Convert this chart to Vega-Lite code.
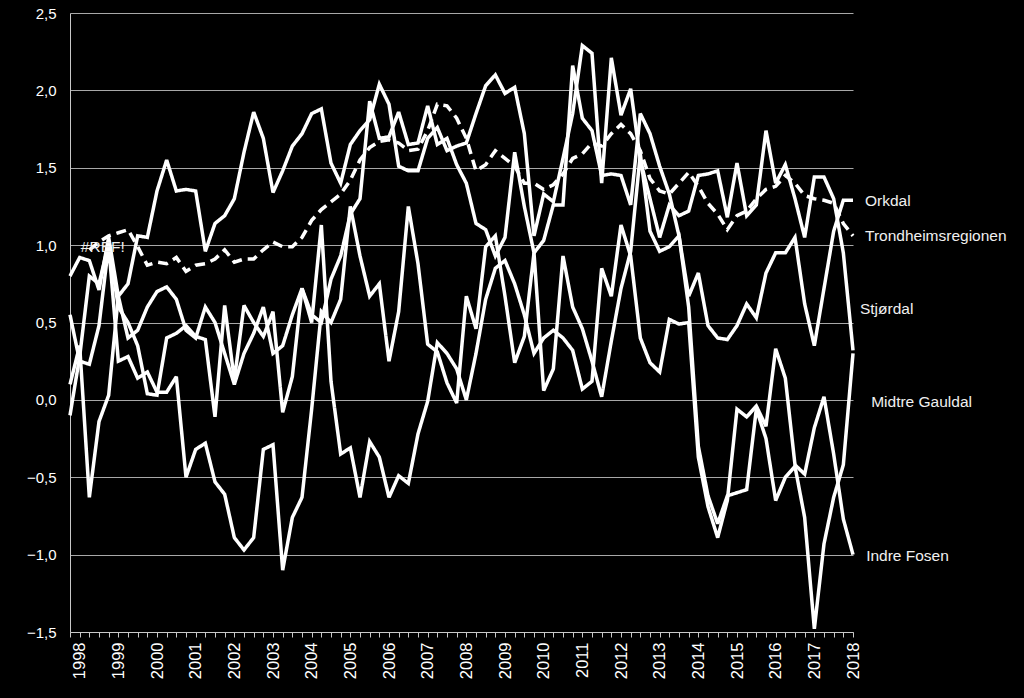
{
  "$schema": "https://vega.github.io/schema/vega-lite/v6.json",
  "width": 783,
  "height": 619,
  "autosize": {"type": "none"},
  "padding": {"left": 70, "top": 13, "right": 171, "bottom": 66},
  "background": "#000000",
  "config": {
    "view": {"stroke": null},
    "font": "Liberation Sans",
    "locale": {"number": {"decimal": ",", "thousands": " ", "grouping": [3], "currency": ["", ""]}}
  },
  "datasets": {
    "series": [
      {"t":1997.75,"Orkdal":0.55,"Trondheimsregionen":null,"Stjørdal":0.80,"Midtre Gauldal":-0.10,"Indre Fosen":0.10},
      {"t":1998.00,"Orkdal":0.25,"Trondheimsregionen":null,"Stjørdal":0.92,"Midtre Gauldal":0.28,"Indre Fosen":0.35},
      {"t":1998.25,"Orkdal":0.23,"Trondheimsregionen":0.97,"Stjørdal":0.90,"Midtre Gauldal":0.80,"Indre Fosen":-0.63},
      {"t":1998.50,"Orkdal":0.48,"Trondheimsregionen":1.02,"Stjørdal":0.71,"Midtre Gauldal":0.75,"Indre Fosen":-0.14},
      {"t":1998.75,"Orkdal":1.00,"Trondheimsregionen":1.06,"Stjørdal":1.05,"Midtre Gauldal":1.01,"Indre Fosen":0.03},
      {"t":1999.00,"Orkdal":0.25,"Trondheimsregionen":1.08,"Stjørdal":0.67,"Midtre Gauldal":0.60,"Indre Fosen":0.67},
      {"t":1999.25,"Orkdal":0.28,"Trondheimsregionen":1.10,"Stjørdal":0.75,"Midtre Gauldal":0.50,"Indre Fosen":0.40},
      {"t":1999.50,"Orkdal":0.14,"Trondheimsregionen":0.99,"Stjørdal":1.06,"Midtre Gauldal":0.35,"Indre Fosen":0.45},
      {"t":1999.75,"Orkdal":0.18,"Trondheimsregionen":0.87,"Stjørdal":1.05,"Midtre Gauldal":0.04,"Indre Fosen":0.60},
      {"t":2000.00,"Orkdal":0.05,"Trondheimsregionen":0.89,"Stjørdal":1.35,"Midtre Gauldal":0.03,"Indre Fosen":0.70},
      {"t":2000.25,"Orkdal":0.05,"Trondheimsregionen":0.88,"Stjørdal":1.55,"Midtre Gauldal":0.40,"Indre Fosen":0.73},
      {"t":2000.50,"Orkdal":0.15,"Trondheimsregionen":0.92,"Stjørdal":1.35,"Midtre Gauldal":0.43,"Indre Fosen":0.65},
      {"t":2000.75,"Orkdal":-0.50,"Trondheimsregionen":0.83,"Stjørdal":1.36,"Midtre Gauldal":0.48,"Indre Fosen":0.45},
      {"t":2001.00,"Orkdal":-0.32,"Trondheimsregionen":0.87,"Stjørdal":1.35,"Midtre Gauldal":0.41,"Indre Fosen":0.40},
      {"t":2001.25,"Orkdal":-0.28,"Trondheimsregionen":0.88,"Stjørdal":0.96,"Midtre Gauldal":0.39,"Indre Fosen":0.60},
      {"t":2001.50,"Orkdal":-0.53,"Trondheimsregionen":0.91,"Stjørdal":1.14,"Midtre Gauldal":-0.11,"Indre Fosen":0.50},
      {"t":2001.75,"Orkdal":-0.61,"Trondheimsregionen":0.97,"Stjørdal":1.19,"Midtre Gauldal":0.61,"Indre Fosen":0.30},
      {"t":2002.00,"Orkdal":-0.89,"Trondheimsregionen":0.89,"Stjørdal":1.30,"Midtre Gauldal":0.13,"Indre Fosen":0.10},
      {"t":2002.25,"Orkdal":-0.97,"Trondheimsregionen":0.91,"Stjørdal":1.60,"Midtre Gauldal":0.61,"Indre Fosen":0.30},
      {"t":2002.50,"Orkdal":-0.89,"Trondheimsregionen":0.91,"Stjørdal":1.86,"Midtre Gauldal":0.50,"Indre Fosen":0.43},
      {"t":2002.75,"Orkdal":-0.32,"Trondheimsregionen":0.97,"Stjørdal":1.69,"Midtre Gauldal":0.41,"Indre Fosen":0.60},
      {"t":2003.00,"Orkdal":-0.29,"Trondheimsregionen":1.02,"Stjørdal":1.34,"Midtre Gauldal":0.57,"Indre Fosen":0.30},
      {"t":2003.25,"Orkdal":-1.10,"Trondheimsregionen":0.99,"Stjørdal":1.48,"Midtre Gauldal":-0.08,"Indre Fosen":0.35},
      {"t":2003.50,"Orkdal":-0.76,"Trondheimsregionen":0.99,"Stjørdal":1.64,"Midtre Gauldal":0.15,"Indre Fosen":0.55},
      {"t":2003.75,"Orkdal":-0.63,"Trondheimsregionen":1.05,"Stjørdal":1.72,"Midtre Gauldal":0.72,"Indre Fosen":0.72},
      {"t":2004.00,"Orkdal":-0.06,"Trondheimsregionen":1.16,"Stjørdal":1.85,"Midtre Gauldal":0.55,"Indre Fosen":0.50},
      {"t":2004.25,"Orkdal":0.57,"Trondheimsregionen":1.23,"Stjørdal":1.88,"Midtre Gauldal":0.50,"Indre Fosen":1.13},
      {"t":2004.50,"Orkdal":0.50,"Trondheimsregionen":1.28,"Stjørdal":1.53,"Midtre Gauldal":0.78,"Indre Fosen":0.12},
      {"t":2004.75,"Orkdal":0.65,"Trondheimsregionen":1.33,"Stjørdal":1.40,"Midtre Gauldal":0.93,"Indre Fosen":-0.35},
      {"t":2005.00,"Orkdal":1.25,"Trondheimsregionen":1.42,"Stjørdal":1.65,"Midtre Gauldal":1.20,"Indre Fosen":-0.31},
      {"t":2005.25,"Orkdal":0.93,"Trondheimsregionen":1.55,"Stjørdal":1.74,"Midtre Gauldal":1.30,"Indre Fosen":-0.63},
      {"t":2005.50,"Orkdal":0.67,"Trondheimsregionen":1.63,"Stjørdal":1.81,"Midtre Gauldal":1.93,"Indre Fosen":-0.27},
      {"t":2005.75,"Orkdal":0.75,"Trondheimsregionen":1.67,"Stjørdal":2.04,"Midtre Gauldal":1.69,"Indre Fosen":-0.37},
      {"t":2006.00,"Orkdal":0.25,"Trondheimsregionen":1.68,"Stjørdal":1.91,"Midtre Gauldal":1.70,"Indre Fosen":-0.63},
      {"t":2006.25,"Orkdal":0.57,"Trondheimsregionen":1.66,"Stjørdal":1.51,"Midtre Gauldal":1.86,"Indre Fosen":-0.49},
      {"t":2006.50,"Orkdal":1.25,"Trondheimsregionen":1.61,"Stjørdal":1.48,"Midtre Gauldal":1.65,"Indre Fosen":-0.54},
      {"t":2006.75,"Orkdal":0.88,"Trondheimsregionen":1.62,"Stjørdal":1.48,"Midtre Gauldal":1.66,"Indre Fosen":-0.22},
      {"t":2007.00,"Orkdal":0.36,"Trondheimsregionen":1.74,"Stjørdal":1.69,"Midtre Gauldal":1.90,"Indre Fosen":-0.01},
      {"t":2007.25,"Orkdal":0.31,"Trondheimsregionen":1.91,"Stjørdal":1.76,"Midtre Gauldal":1.65,"Indre Fosen":0.37},
      {"t":2007.50,"Orkdal":0.11,"Trondheimsregionen":1.90,"Stjørdal":1.61,"Midtre Gauldal":1.69,"Indre Fosen":0.30},
      {"t":2007.75,"Orkdal":-0.02,"Trondheimsregionen":1.82,"Stjørdal":1.64,"Midtre Gauldal":1.52,"Indre Fosen":0.20},
      {"t":2008.00,"Orkdal":0.67,"Trondheimsregionen":1.69,"Stjørdal":1.66,"Midtre Gauldal":1.40,"Indre Fosen":0.00},
      {"t":2008.25,"Orkdal":0.46,"Trondheimsregionen":1.48,"Stjørdal":1.85,"Midtre Gauldal":1.14,"Indre Fosen":0.30},
      {"t":2008.50,"Orkdal":0.99,"Trondheimsregionen":1.52,"Stjørdal":2.03,"Midtre Gauldal":1.10,"Indre Fosen":0.65},
      {"t":2008.75,"Orkdal":1.06,"Trondheimsregionen":1.61,"Stjørdal":2.10,"Midtre Gauldal":0.93,"Indre Fosen":0.85},
      {"t":2009.00,"Orkdal":0.67,"Trondheimsregionen":1.56,"Stjørdal":1.98,"Midtre Gauldal":1.05,"Indre Fosen":0.90},
      {"t":2009.25,"Orkdal":0.24,"Trondheimsregionen":1.51,"Stjørdal":2.02,"Midtre Gauldal":1.60,"Indre Fosen":0.75},
      {"t":2009.50,"Orkdal":0.41,"Trondheimsregionen":1.40,"Stjørdal":1.72,"Midtre Gauldal":1.25,"Indre Fosen":0.55},
      {"t":2009.75,"Orkdal":0.95,"Trondheimsregionen":1.40,"Stjørdal":1.06,"Midtre Gauldal":0.95,"Indre Fosen":0.30},
      {"t":2010.00,"Orkdal":0.06,"Trondheimsregionen":1.36,"Stjørdal":1.33,"Midtre Gauldal":1.03,"Indre Fosen":0.40},
      {"t":2010.25,"Orkdal":0.20,"Trondheimsregionen":1.39,"Stjørdal":1.28,"Midtre Gauldal":1.26,"Indre Fosen":0.45},
      {"t":2010.50,"Orkdal":0.93,"Trondheimsregionen":1.46,"Stjørdal":1.56,"Midtre Gauldal":1.26,"Indre Fosen":0.40},
      {"t":2010.75,"Orkdal":0.60,"Trondheimsregionen":1.56,"Stjørdal":1.85,"Midtre Gauldal":2.16,"Indre Fosen":0.32},
      {"t":2011.00,"Orkdal":0.46,"Trondheimsregionen":1.59,"Stjørdal":2.29,"Midtre Gauldal":1.82,"Indre Fosen":0.07},
      {"t":2011.25,"Orkdal":0.25,"Trondheimsregionen":1.66,"Stjørdal":2.24,"Midtre Gauldal":1.74,"Indre Fosen":0.12},
      {"t":2011.50,"Orkdal":0.02,"Trondheimsregionen":1.64,"Stjørdal":1.40,"Midtre Gauldal":1.45,"Indre Fosen":0.85},
      {"t":2011.75,"Orkdal":0.38,"Trondheimsregionen":1.72,"Stjørdal":2.21,"Midtre Gauldal":1.46,"Indre Fosen":0.67},
      {"t":2012.00,"Orkdal":0.72,"Trondheimsregionen":1.78,"Stjørdal":1.84,"Midtre Gauldal":1.45,"Indre Fosen":1.13},
      {"t":2012.25,"Orkdal":0.96,"Trondheimsregionen":1.72,"Stjørdal":2.01,"Midtre Gauldal":1.26,"Indre Fosen":0.93},
      {"t":2012.50,"Orkdal":1.59,"Trondheimsregionen":1.61,"Stjørdal":1.55,"Midtre Gauldal":1.85,"Indre Fosen":0.40},
      {"t":2012.75,"Orkdal":1.09,"Trondheimsregionen":1.43,"Stjørdal":1.30,"Midtre Gauldal":1.72,"Indre Fosen":0.24},
      {"t":2013.00,"Orkdal":0.96,"Trondheimsregionen":1.35,"Stjørdal":1.05,"Midtre Gauldal":1.51,"Indre Fosen":0.18},
      {"t":2013.25,"Orkdal":0.99,"Trondheimsregionen":1.33,"Stjørdal":1.26,"Midtre Gauldal":1.33,"Indre Fosen":0.52},
      {"t":2013.50,"Orkdal":1.06,"Trondheimsregionen":1.40,"Stjørdal":1.19,"Midtre Gauldal":1.06,"Indre Fosen":0.49},
      {"t":2013.75,"Orkdal":0.67,"Trondheimsregionen":1.47,"Stjørdal":1.22,"Midtre Gauldal":0.60,"Indre Fosen":0.50},
      {"t":2014.00,"Orkdal":0.82,"Trondheimsregionen":1.38,"Stjørdal":1.45,"Midtre Gauldal":-0.30,"Indre Fosen":-0.37},
      {"t":2014.25,"Orkdal":0.48,"Trondheimsregionen":1.27,"Stjørdal":1.46,"Midtre Gauldal":-0.62,"Indre Fosen":-0.69},
      {"t":2014.50,"Orkdal":0.40,"Trondheimsregionen":1.20,"Stjørdal":1.48,"Midtre Gauldal":-0.80,"Indre Fosen":-0.89},
      {"t":2014.75,"Orkdal":0.39,"Trondheimsregionen":1.10,"Stjørdal":1.18,"Midtre Gauldal":-0.62,"Indre Fosen":-0.65},
      {"t":2015.00,"Orkdal":0.48,"Trondheimsregionen":1.19,"Stjørdal":1.53,"Midtre Gauldal":-0.60,"Indre Fosen":-0.06},
      {"t":2015.25,"Orkdal":0.62,"Trondheimsregionen":1.22,"Stjørdal":1.19,"Midtre Gauldal":-0.58,"Indre Fosen":-0.11},
      {"t":2015.50,"Orkdal":0.53,"Trondheimsregionen":1.30,"Stjørdal":1.26,"Midtre Gauldal":-0.06,"Indre Fosen":-0.04},
      {"t":2015.75,"Orkdal":0.82,"Trondheimsregionen":1.36,"Stjørdal":1.74,"Midtre Gauldal":-0.25,"Indre Fosen":-0.17},
      {"t":2016.00,"Orkdal":0.95,"Trondheimsregionen":1.38,"Stjørdal":1.40,"Midtre Gauldal":-0.65,"Indre Fosen":0.33},
      {"t":2016.25,"Orkdal":0.95,"Trondheimsregionen":1.45,"Stjørdal":1.52,"Midtre Gauldal":-0.50,"Indre Fosen":0.14},
      {"t":2016.50,"Orkdal":1.05,"Trondheimsregionen":1.40,"Stjørdal":1.30,"Midtre Gauldal":-0.43,"Indre Fosen":-0.42},
      {"t":2016.75,"Orkdal":0.62,"Trondheimsregionen":1.32,"Stjørdal":1.05,"Midtre Gauldal":-0.76,"Indre Fosen":-0.48},
      {"t":2017.00,"Orkdal":0.35,"Trondheimsregionen":1.30,"Stjørdal":1.44,"Midtre Gauldal":-1.48,"Indre Fosen":-0.18},
      {"t":2017.25,"Orkdal":0.72,"Trondheimsregionen":1.29,"Stjørdal":1.44,"Midtre Gauldal":-0.93,"Indre Fosen":0.02},
      {"t":2017.50,"Orkdal":1.09,"Trondheimsregionen":1.27,"Stjørdal":1.30,"Midtre Gauldal":-0.63,"Indre Fosen":-0.35},
      {"t":2017.75,"Orkdal":1.29,"Trondheimsregionen":1.14,"Stjørdal":0.95,"Midtre Gauldal":-0.42,"Indre Fosen":-0.77},
      {"t":2018.00,"Orkdal":1.29,"Trondheimsregionen":1.06,"Stjørdal":0.32,"Midtre Gauldal":0.30,"Indre Fosen":-1.00}
    ],
    "labels": [
      {"t":2018.31,"v":1.284,"label":"Orkdal"},
      {"t":2018.31,"v":1.058,"label":"Trondheimsregionen"},
      {"t":2018.18,"v":0.587,"label":"Stjørdal"},
      {"t":2018.47,"v":-0.013,"label":"Midtre Gauldal"},
      {"t":2018.34,"v":-1.006,"label":"Indre Fosen"},
      {"t":1998.03,"v":0.99,"label":"#REF!"}
    ]
  },
  "layer": [
    {
      "data": {"name": "series"},
      "transform": [{"fold": ["Orkdal", "Trondheimsregionen", "Stjørdal", "Midtre Gauldal", "Indre Fosen"], "as": ["serie", "v"]}],
      "mark": {"type": "line", "stroke": "#ffffff", "strokeWidth": 3.5, "strokeJoin": "miter", "strokeMiterLimit": 3},
      "encoding": {
        "x": {
          "field": "t", "type": "quantitative",
          "scale": {"domain": [1997.75, 2018], "nice": false, "zero": false},
          "axis": {
            "values": [1997.75,1998,1998.25,1998.5,1998.75,1999,1999.25,1999.5,1999.75,2000,2000.25,2000.5,2000.75,2001,2001.25,2001.5,2001.75,2002,2002.25,2002.5,2002.75,2003,2003.25,2003.5,2003.75,2004,2004.25,2004.5,2004.75,2005,2005.25,2005.5,2005.75,2006,2006.25,2006.5,2006.75,2007,2007.25,2007.5,2007.75,2008,2008.25,2008.5,2008.75,2009,2009.25,2009.5,2009.75,2010,2010.25,2010.5,2010.75,2011,2011.25,2011.5,2011.75,2012,2012.25,2012.5,2012.75,2013,2013.25,2013.5,2013.75,2014,2014.25,2014.5,2014.75,2015,2015.25,2015.5,2015.75,2016,2016.25,2016.5,2016.75,2017,2017.25,2017.5,2017.75,2018],
            "tickCount": 200,
            "labelExpr": "datum.value % 1 === 0 ? format(datum.value, 'd') : ''",
            "labelAngle": -90, "labelAlign": "right", "labelBaseline": "middle",
            "labelFontSize": 16.5, "labelColor": "#ffffff", "labelPadding": 5,
            "labelOverlap": false, "labelBound": false, "labelFlush": false,
            "tickColor": "#c8c8c8", "tickSize": 5, "tickWidth": 1,
            "domainColor": "#c8c8c8", "domainWidth": 1,
            "grid": false, "title": null
          }
        },
        "y": {
          "field": "v", "type": "quantitative",
          "scale": {"domain": [-1.5, 2.5], "nice": false, "zero": false},
          "axis": {
            "values": [-1.5, -1, -0.5, 0, 0.5, 1, 1.5, 2, 2.5],
            "tickCount": 20,
            "format": ".1f",
            "labelFontSize": 15, "labelColor": "#ffffff", "labelPadding": 14,
            "ticks": false, "domainColor": "#c8c8c8", "domainWidth": 1,
            "grid": true, "gridColor": "#a8a8a8", "gridWidth": 1,
            "title": null
          }
        },
        "detail": {"field": "serie"},
        "strokeDash": {
          "field": "serie", "type": "nominal",
          "scale": {"domain": ["Orkdal", "Trondheimsregionen", "Stjørdal", "Midtre Gauldal", "Indre Fosen"], "range": [[1, 0], [10, 6], [1, 0], [1, 0], [1, 0]]},
          "legend": null
        }
      }
    },
    {
      "mark": {"type": "rule", "stroke": "#ffffff", "strokeWidth": 2, "strokeDash": [8, 4]},
      "encoding": {"y": {"datum": 0}}
    },
    {
      "data": {"name": "labels"},
      "mark": {"type": "text", "align": "left", "baseline": "middle", "fontSize": 15.5, "color": "#f0f0f0", "font": "Liberation Sans"},
      "encoding": {
        "x": {"field": "t", "type": "quantitative"},
        "y": {"field": "v", "type": "quantitative"},
        "text": {"field": "label"}
      }
    }
  ]
}
